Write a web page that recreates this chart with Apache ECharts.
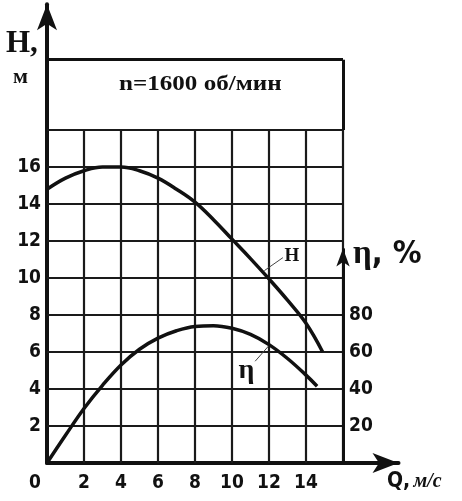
<!DOCTYPE html>
<html lang="ru">
  <head>
    <meta charset="UTF-8" />
    <title>Напорная характеристика насоса</title>
    <script src="https://cdn.jsdelivr.net/npm/echarts@6/dist/echarts.min.js"></script>
    <style>
      html, body { margin: 0; padding: 0; background: #fff; }
      #main { width: 462px; height: 501px; }
    </style>
  </head>
  <body>
    <div id="main"></div>

    <script>
      // grid ticks
      const qTicks = [2, 4, 6, 8, 10, 12, 14, 16];
      const hTicks = [2, 4, 6, 8, 10, 12, 14, 16, 18];
      const qLabels = [0, 2, 4, 6, 8, 10, 12, 14];
      const hLabels = [2, 4, 6, 8, 10, 12, 14, 16];
      const etaLabels = [20, 40, 60, 80];

      // H(Q), м
      const hQ = [0, 1, 2, 3, 4, 5, 6, 7, 8, 9, 10, 11, 12, 13, 14, 14.9];
      const hVal = [14.8, 15.4, 15.8, 16.0, 16.0, 15.8, 15.4, 14.8, 14.1, 13.15, 12.1, 11.05, 9.95, 8.8, 7.55, 6.0];

      // η(Q), %
      const etaQ = [0, 1, 2, 3, 4, 5, 6, 7, 8, 9, 10, 11, 12, 13, 14, 14.6];
      const etaVal = [0, 15, 29.5, 42, 53, 61.5, 67.5, 71.5, 73.8, 74.2, 72.8, 69.5, 64, 56.5, 47.5, 41.5];

      const qMax = 16;      // right edge of the grid box
      const hGridMax = 18;  // top of the squared grid
      const hBoxTop = 21.8; // top of the caption band
      const etaArrowTop = 116;

      const numFont = '"DejaVu Sans Condensed", "DejaVu Sans", sans-serif';
      const serif = '"Liberation Serif", "DejaVu Serif", serif';

      const gridLines = [];
      hTicks.forEach((h) => gridLines.push([{ coord: [0, h] }, { coord: [qMax, h] }]));
      qTicks.forEach((q) => gridLines.push([{ coord: [q, 0] }, { coord: [q, hGridMax] }]));

      const boxLines = [
        [{ coord: [0, hBoxTop] }, { coord: [qMax, hBoxTop] }],
        [{ coord: [qMax, hGridMax] }, { coord: [qMax, hBoxTop] }],
      ];

      const chart = echarts.init(document.getElementById('main'));

      const tickLabel = {
        color: '#111',
        fontFamily: numFont,
        fontWeight: 'bold',
        fontSize: 19,
      };

      const options = {
        animation: false,
        grid: { left: 47, top: 4.2, right: 63.5, bottom: 38 },
        xAxis: {
          type: 'value',
          min: 0,
          max: 19,
          interval: 2,
          splitLine: { show: false },
          axisTick: { show: false },
          axisLine: {
            lineStyle: { color: '#111', width: 4 },
            symbol: ['none', 'arrow'],
            symbolSize: [15, 26],
          },
          axisLabel: {
            ...tickLabel,
            margin: 11,
            formatter: (v) => (qLabels.includes(v) ? (v === 0 ? '{z|0}' : String(v)) : ''),
            rich: { z: { ...tickLabel, padding: [0, 24, 0, 0] } },
          },
        },
        yAxis: [
          {
            type: 'value',
            min: 0,
            max: 24.8,
            interval: 2,
            splitLine: { show: false },
            axisTick: { show: false },
            axisLine: {
              show: true,
              lineStyle: { color: '#111', width: 4 },
              symbol: ['none', 'arrow'],
              symbolSize: [15, 26],
            },
            axisLabel: {
              ...tickLabel,
              margin: 6,
              formatter: (v) => (hLabels.includes(v) ? String(v) : ''),
            },
          },
          {
            type: 'value',
            position: 'right',
            offset: -55.5,
            min: 0,
            max: 248,
            interval: 20,
            splitLine: { show: false },
            axisTick: { show: false },
            axisLine: { show: false },
            axisLabel: {
              ...tickLabel,
              margin: 6,
              formatter: (v) => (etaLabels.includes(v) ? String(v) : ''),
            },
          },
        ],
        graphic: [
          {
            type: 'text', left: 6, top: 28,
            style: { text: 'H,', font: 'bold 31px ' + serif, fill: '#111' },
          },
          {
            type: 'text', left: 13, top: 66,
            style: { text: 'м', font: 'bold 22px ' + serif, fill: '#111' },
          },
          {
            type: 'text', left: 353, top: 238,
            style: {
              text: '{e|η}{p|, %}',
              rich: {
                e: { font: 'bold 33px ' + serif, fill: '#111' },
                p: { font: 'bold 32px ' + numFont, fill: '#111' },
              },
            },
          },
          {
            type: 'text', left: 387, top: 471,
            style: {
              text: '{q|Q,} {u|м/с}',
              rich: {
                q: { font: 'bold 21px ' + numFont, fill: '#111' },
                u: { font: 'bold italic 20px ' + serif, fill: '#111' },
              },
            },
          },
          {
            type: 'text', x: 119, y: 73, scaleX: 1.14,
            style: { text: 'n=1600 об/мин', font: 'bold 22px ' + serif, fill: '#111' },
          },
        ],
        series: [
          {
            name: 'grid',
            type: 'line',
            data: [],
            z: 1,
            silent: true,
            markLine: {
              silent: true,
              symbol: 'none',
              label: { show: false },
              lineStyle: { color: '#1a1a1a', width: 2.2, type: 'solid' },
              data: gridLines,
            },
          },
          {
            name: 'box',
            type: 'line',
            data: [],
            z: 2,
            silent: true,
            markLine: {
              silent: true,
              symbol: 'none',
              label: { show: false },
              lineStyle: { color: '#111', width: 3, type: 'solid' },
              data: boxLines,
            },
          },
          {
            name: 'H',
            type: 'line',
            smooth: 0.4,
            showSymbol: false,
            z: 5,
            lineStyle: { color: '#111', width: 3.5 },
            data: hQ.map((q, i) => [q, hVal[i]]),
            markLine: {
              silent: true,
              symbol: 'none',
              lineStyle: { color: '#444', width: 1, type: 'solid' },
              label: {
                show: true,
                position: 'end',
                distance: 2,
                formatter: 'H',
                color: '#111',
                fontFamily: serif,
                fontWeight: 'bold',
                fontSize: 19,
              },
              data: [[{ coord: [11.75, 10.4] }, { coord: [12.75, 11.1] }]],
            },
          },
          {
            name: 'η',
            type: 'line',
            yAxisIndex: 1,
            smooth: 0.4,
            showSymbol: false,
            z: 5,
            lineStyle: { color: '#111', width: 3.5 },
            data: etaQ.map((q, i) => [q, etaVal[i]]),
            markLine: {
              silent: true,
              symbol: 'none',
              lineStyle: { color: '#444', width: 1, type: 'solid' },
              label: {
                show: true,
                position: 'end',
                distance: 13,
                formatter: 'η',
                color: '#111',
                fontFamily: serif,
                fontWeight: 'bold',
                fontSize: 28,
              },
              data: [[{ coord: [12.0, 63.5] }, { coord: [11.25, 55] }]],
            },
          },
          {
            name: 'eta-axis',
            type: 'line',
            yAxisIndex: 1,
            data: [],
            z: 4,
            silent: true,
            markLine: {
              silent: true,
              symbol: ['none', 'arrow'],
              symbolSize: [10, 18],
              label: { show: false },
              lineStyle: { color: '#111', width: 3, type: 'solid' },
              data: [[{ coord: [qMax, 0] }, { coord: [qMax, etaArrowTop] }]],
            },
          },
        ],
      };

      chart.setOption(options);

      window.onresize = function () {
        chart.resize();
      };
    </script>
  </body>
</html>
